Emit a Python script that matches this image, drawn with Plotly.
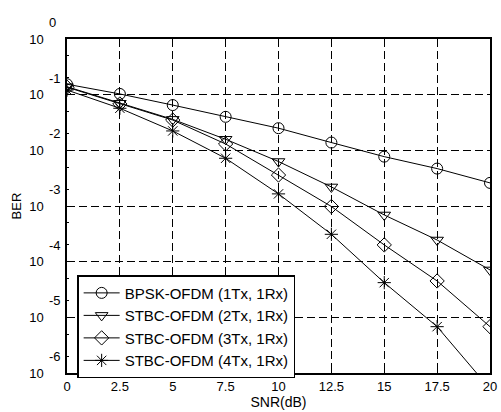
import plotly.graph_objects as go

snr = [0, 2.5, 5, 7.5, 10, 12.5, 15, 17.5, 20]
ber_bpsk = [0.154, 0.103, 0.065, 0.040, 0.025, 0.0138, 0.0077, 0.0047, 0.0026]
ber_2tx = [0.139, 0.070, 0.036, 0.0158, 0.0063, 0.0022, 0.00069, 0.000245, 7.1e-5]
ber_3tx = [0.136, 0.068, 0.035, 0.013, 0.0036, 0.00098, 0.0002, 4.5e-5, 6.8e-6]
ber_4tx = [0.121, 0.057, 0.0223, 0.0072, 0.00165, 0.00031, 4.2e-5, 6.8e-6, 5.2e-7]

names = ["BPSK-OFDM (1Tx, 1Rx)", "STBC-OFDM (2Tx, 1Rx)",
         "STBC-OFDM (3Tx, 1Rx)", "STBC-OFDM (4Tx, 1Rx)"]
symbols = ["circle-open", "triangle-down-open", "diamond-open", "asterisk-open"]

x_ticks = [0, 2.5, 5, 7.5, 10, 12.5, 15, 17.5, 20]
x_ticktext = ["0", "2.5", "5", "7.5", "10", "12.5", "15", "17.5", "20"]
y_exponents = [-6, -5, -4, -3, -2, -1, 0]
y_exponent_text = ["-6", "-5", "-4", "-3", "-2", "-1", "0"]
y_ticks = [10.0 ** e for e in y_exponents]
y_ticktext = ["10"] * len(y_exponents)
y_lo, y_hi = -6, 0

fig = go.Figure()
for name, ys, sym in zip(names, [ber_bpsk, ber_2tx, ber_3tx, ber_4tx], symbols):
    fig.add_trace(go.Scatter(
        x=snr, y=ys, name=name, mode="lines+markers",
        line=dict(color="black", width=1),
        marker=dict(symbol=sym, size=11, color="black", line=dict(width=1, color="black")),
    ))

# exponents of the "10" tick labels, drawn like a raised superscript
for e, t in zip(y_exponents, y_exponent_text):
    fig.add_annotation(
        xref="paper", yref="paper", x=-0.048, y=(e - y_lo) / (y_hi - y_lo),
        text=t, showarrow=False, xanchor="left", yanchor="bottom", yshift=7,
        font=dict(size=13, color="black"),
    )

font_family = "Liberation Sans, Arial, sans-serif"
fig.update_layout(
    width=501, height=412,
    margin=dict(l=67, r=11, t=39, b=39, autoexpand=False),
    paper_bgcolor="white", plot_bgcolor="white",
    font=dict(family=font_family, size=13, color="black"),
    showlegend=True,
    legend=dict(
        x=0.024, y=0.293, xanchor="left", yanchor="top",
        bordercolor="black", borderwidth=1.5, bgcolor="white",
        font=dict(size=15), tracegroupgap=0, itemwidth=36,
    ),
)
fig.update_xaxes(
    range=[0, 20], tickvals=x_ticks, ticktext=x_ticktext,
    showgrid=True, gridcolor="black", griddash="8px,4px", gridwidth=1,
    showline=True, linecolor="black", linewidth=1.5, mirror=True,
    ticks="inside", ticklen=4, tickcolor="black", automargin=False,
    zeroline=False, ticklabelstandoff=1,
    title=dict(text="SNR(dB)", standoff=1, font=dict(size=14)),
    tickfont=dict(size=13),
)
fig.update_yaxes(
    type="log", range=[y_lo, y_hi], tickvals=y_ticks, ticktext=y_ticktext,
    showgrid=True, gridcolor="black", griddash="8px,4px", gridwidth=1,
    showline=True, linecolor="black", linewidth=1.5, mirror=True,
    ticks="inside", ticklen=4, tickcolor="black", ticklabelstandoff=19,
    automargin=False,
    minor=dict(ticks="inside", ticklen=2, tickcolor="black", showgrid=False),
    title=dict(text="BER", standoff=5, font=dict(size=13)),
    tickfont=dict(size=13),
)

fig.write_html("out.html")
